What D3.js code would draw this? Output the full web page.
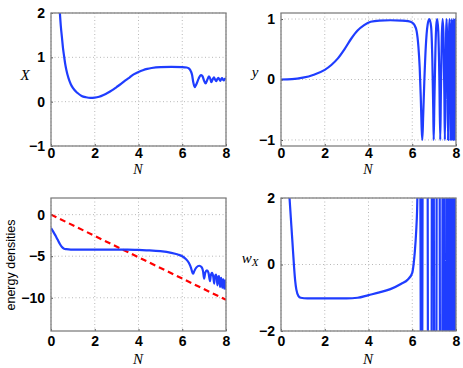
<!DOCTYPE html>
<html>
<head>
<meta charset="utf-8">
<script src="https://cdn.jsdelivr.net/npm/d3@7"></script>
<style>
body { margin: 0; background: #fff; }
.tick text { font-family: 'Liberation Sans', Arial, Helvetica, sans-serif; font-weight: bold; font-size: 14px; fill: #000; }
.lab { font-family: 'Liberation Serif', 'Times New Roman', serif; font-style: italic; font-size: 15px; fill: #000; }
</style>
</head>
<body>
<div id="chart"></div>
<script>
// X(N), top left
const xN = [0.38, 0.45, 0.5, 0.55, 0.6, 0.65, 0.7, 0.8, 0.9, 1.0, 1.2, 1.4, 1.6, 1.8, 2.0, 2.2, 2.4, 2.6, 2.8, 3.0, 3.2, 3.4, 3.6, 3.8, 4.0, 4.2, 4.4, 4.6, 5.0, 5.5, 6.0, 6.2, 6.3, 6.4, 6.45, 6.5, 6.57, 6.65, 6.75, 6.85, 6.92, 7.0, 7.07, 7.15, 7.22, 7.28, 7.33, 7.39, 7.45, 7.5, 7.55, 7.6, 7.65, 7.7, 7.74, 7.78, 7.82, 7.86, 7.9, 7.94, 7.97, 8.0]
const xVal = [2.2, 1.7, 1.45, 1.2, 1.02, 0.85, 0.72, 0.53, 0.4, 0.31, 0.2, 0.13, 0.1, 0.085, 0.09, 0.11, 0.15, 0.2, 0.26, 0.33, 0.4, 0.48, 0.55, 0.62, 0.67, 0.71, 0.74, 0.76, 0.78, 0.785, 0.78, 0.77, 0.75, 0.68, 0.6, 0.45, 0.33, 0.4, 0.52, 0.6, 0.58, 0.47, 0.41, 0.5, 0.57, 0.52, 0.44, 0.5, 0.55, 0.5, 0.46, 0.51, 0.54, 0.5, 0.47, 0.51, 0.53, 0.5, 0.48, 0.51, 0.52, 0.5]

// y(N), top right
const yN = [0, 0.5, 1.0, 1.5, 2.0, 2.3, 2.6, 2.9, 3.2, 3.5, 3.8, 4.1, 4.5, 5.0, 5.5, 5.8, 6.0, 6.1, 6.2, 6.28, 6.34, 6.39, 6.43, 6.46, 6.5, 6.55, 6.62, 6.7, 6.78, 6.86, 6.92, 6.96, 6.98, 7.01, 7.06, 7.1, 7.14, 7.19, 7.24, 7.28, 7.31, 7.35, 7.39, 7.43, 7.47, 7.49, 7.52, 7.55, 7.57, 7.6, 7.62, 7.64, 7.66, 7.69, 7.71, 7.73, 7.75, 7.76, 7.78, 7.8, 7.81, 7.83, 7.85, 7.86, 7.88, 7.89, 7.9, 7.92, 7.93, 7.94, 7.96, 7.97, 7.98, 7.99, 8.0]
const yVal = [0, 0.005, 0.03, 0.08, 0.16, 0.24, 0.35, 0.5, 0.67, 0.81, 0.9, 0.955, 0.975, 0.98, 0.975, 0.965, 0.94, 0.9, 0.8, 0.55, 0.2, -0.3, -0.8, -1.0, -0.6, -0.05, 0.55, 0.9, 1.0, 0.88, 0.3, -0.5, -1.0, -0.4, 0.5, 0.9, 1.0, 0.8, 0.0, -1.0, -0.2, 0.7, 1.0, 0.7, -0.3, -1.0, -0.1, 0.8, 1.0, 0.6, -0.3, -1.0, -0.1, 0.85, 1.0, 0.6, -0.4, -1.0, -0.1, 0.85, 1.0, 0.5, -0.5, -1.0, 0.0, 0.8, 1.0, 0.4, -0.4, -1.0, 0.2, 0.9, 1.0, 0.3, -0.5]

// energy densities, bottom left
const eN = [0, 0.1, 0.2, 0.3, 0.4, 0.5, 0.6, 0.7, 0.9, 1.5, 2, 3, 3.5, 4, 4.5, 5, 5.5, 5.8, 6.0, 6.15, 6.3, 6.4, 6.47, 6.5, 6.55, 6.65, 6.78, 6.88, 6.95, 7.0, 7.05, 7.13, 7.2, 7.27, 7.3, 7.36, 7.42, 7.46, 7.49, 7.54, 7.58, 7.61, 7.64, 7.68, 7.71, 7.73, 7.75, 7.78, 7.81, 7.83, 7.85, 7.88, 7.9, 7.92, 7.94, 7.97, 8.0]
const eVal = [-1.6, -2.05, -2.5, -3.0, -3.5, -3.9, -4.1, -4.15, -4.2, -4.2, -4.2, -4.2, -4.2, -4.25, -4.3, -4.4, -4.6, -4.8, -5.0, -5.3, -5.8, -6.4, -7.0, -7.1, -6.8, -6.35, -6.15, -6.3, -6.8, -7.7, -7.0, -6.7, -7.0, -8.0, -7.4, -7.0, -7.5, -8.3, -7.5, -7.2, -7.7, -8.5, -7.6, -7.4, -8.0, -8.7, -7.8, -7.6, -8.2, -8.8, -7.9, -7.8, -8.4, -8.9, -8.0, -7.9, -9.0]
const radN = [0, 8]
const radVal = [0, -10.25]

// w_X, bottom right
const wN = [0.38, 0.45, 0.5, 0.55, 0.6, 0.65, 0.7, 0.8, 0.9, 1.2, 2, 3, 3.5, 4, 4.5, 5, 5.5, 5.8, 6.0, 6.06, 6.12, 6.18, 6.22, 6.25, 6.3]
const wVal = [2.1, 1.4, 0.9, 0.4, -0.1, -0.5, -0.75, -0.95, -1.0, -1.02, -1.02, -1.02, -1.0, -0.92, -0.84, -0.74, -0.58, -0.45, -0.25, 0.0, 0.4, 1.0, 1.6, 2.5, 5]
// fast oscillating part
const wOscN = [6.3, 6.36, 6.40, 6.45, 6.48, 6.70, 6.72, 6.88, 6.90, 6.98, 7.00, 7.10, 7.12, 7.25, 7.27, 7.37, 7.39, 7.46, 7.48, 7.56, 7.58, 7.60, 7.62, 7.64, 7.66, 7.68, 7.70, 7.71, 7.73, 7.74, 7.76, 7.77, 7.79, 7.80, 7.82, 7.83, 7.85, 7.865, 7.875, 7.885, 7.895, 7.905, 7.915, 7.925, 7.935, 7.945, 7.955, 7.965, 7.975, 7.985, 7.995]
const wOscVal = [5, 5, -5, -5, 5, 5, -5, -5, 5, 5, -5, -5, 5, 5, -5, -5, 5, 5, -5, -5, 5, 5, -5, -5, 5, 5, -5, -5, 5, 5, -5, -5, 5, 5, -5, -5, 5, 5, -5, -5, 5, 5, -5, -5, 5, 5, -5, -5, 5, 5, -5]

const nTicks = [0, 2, 4, 6, 8]

const W = 463
const H = 368
const pw = 175
const ph = 133

const blue = '#1f3dff'
const red = '#ff0000'

const svg = d3
  .select('#chart')
  .append('svg')
  .attr('width', W)
  .attr('height', H)

const panels = [
  { id: 'p1', left: 51, top: 13, pad: 2, yDomain: [-1, 2], yTicks: [-1, 0, 1, 2] },
  { id: 'p2', left: 281, top: 13, pad: 2, yDomain: [-1.1, 1.1], yTicks: [-1, 0, 1] },
  { id: 'p3', left: 51, top: 198, pad: 5, yDomain: [-14, 2], yTicks: [-10, -5, 0] },
  { id: 'p4', left: 281, top: 198, pad: 5, yDomain: [-2, 2], yTicks: [-2, 0, 2] }
]

function drawPanel(p) {
  const g = svg.append('g').attr('transform', `translate(${p.left},${p.top})`)
  const x = d3.scaleLinear().domain([0, 8]).range([0, pw])
  const y = d3.scaleLinear().domain(p.yDomain).range([ph, 0])

  // dotted grid
  g.selectAll('.gx')
    .data(nTicks)
    .enter()
    .append('line')
    .attr('x1', d => x(d))
    .attr('x2', d => x(d))
    .attr('y1', 0)
    .attr('y2', ph)
    .attr('stroke', '#b8b8b8')
    .attr('stroke-width', 1)
    .attr('stroke-dasharray', '1,2.5')
  g.selectAll('.gy')
    .data(p.yTicks)
    .enter()
    .append('line')
    .attr('x1', 0)
    .attr('x2', pw)
    .attr('y1', d => y(d))
    .attr('y2', d => y(d))
    .attr('stroke', '#b8b8b8')
    .attr('stroke-width', 1)
    .attr('stroke-dasharray', '1,2.5')

  g.append('clipPath')
    .attr('id', 'clip-' + p.id)
    .append('rect')
    .attr('width', pw)
    .attr('height', ph)

  const plot = g.append('g').attr('clip-path', `url(#clip-${p.id})`)

  const xAxis = d3.axisBottom(x).tickValues(nTicks).tickSizeInner(-2).tickSizeOuter(0).tickPadding(p.pad).tickFormat(d3.format('d'))
  const yAxis = d3.axisLeft(y).tickValues(p.yTicks).tickSizeInner(-2).tickSizeOuter(0).tickPadding(6).tickFormat(d3.format('d'))

  g.append('g')
    .attr('class', 'axis x-axis')
    .attr('transform', `translate(0,${ph})`)
    .call(xAxis)
  g.append('g')
    .attr('class', 'axis y-axis')
    .call(yAxis)
  g.selectAll('.axis .domain').remove()
  g.selectAll('.axis line').attr('stroke', '#555')

  g.append('rect')
    .attr('width', pw)
    .attr('height', ph)
    .attr('fill', 'none')
    .attr('stroke', '#808080')
    .attr('stroke-width', 1.3)

  return { g, plot, x, y }
}

const [a1, a2, a3, a4] = panels.map(drawPanel)

function addLine(ax, ns, vs, color, curve, dash) {
  const line = d3
    .line()
    .x(d => ax.x(d[0]))
    .y(d => ax.y(d[1]))
    .curve(curve)
  ax.plot
    .append('path')
    .datum(ns.map((n, i) => [n, vs[i]]))
    .attr('d', line)
    .attr('fill', 'none')
    .attr('stroke', color)
    .attr('stroke-width', 2.2)
    .attr('stroke-linejoin', 'round')
    .attr('stroke-dasharray', dash || null)
}

addLine(a1, xN, xVal, blue, d3.curveMonotoneX)
addLine(a2, yN, yVal, blue, d3.curveMonotoneX)
addLine(a3, radN, radVal, red, d3.curveLinear, '6,4')
addLine(a3, eN, eVal, blue, d3.curveMonotoneX)
addLine(a4, wN, wVal, blue, d3.curveMonotoneX)
addLine(a4, wOscN, wOscVal, blue, d3.curveLinear)

// axis labels
function label(txt, x, y, size) {
  return svg.append('text').attr('class', 'lab').attr('x', x).attr('y', y).attr('text-anchor', 'middle').style('font-size', size || null).text(txt)
}
label('N', 138, 174, '14px')
label('N', 368, 174, '14px')
label('N', 138, 364)
label('N', 368, 364)
label('X', 25, 80)
label('y', 255, 77)

const wl = svg.append('text').attr('class', 'lab').attr('x', 250).attr('y', 263).attr('text-anchor', 'middle')
wl.append('tspan').text('w')
wl.append('tspan').attr('dy', 3).attr('font-size', '11px').text('X')

svg
  .append('text')
  .attr('transform', 'translate(15,265) rotate(-90)')
  .attr('text-anchor', 'middle')
  .attr('font-family', "'Liberation Sans', Arial, Helvetica, sans-serif")
  .attr('font-size', '12.5px')
  .text('energy densities')
</script>
</body>
</html>
